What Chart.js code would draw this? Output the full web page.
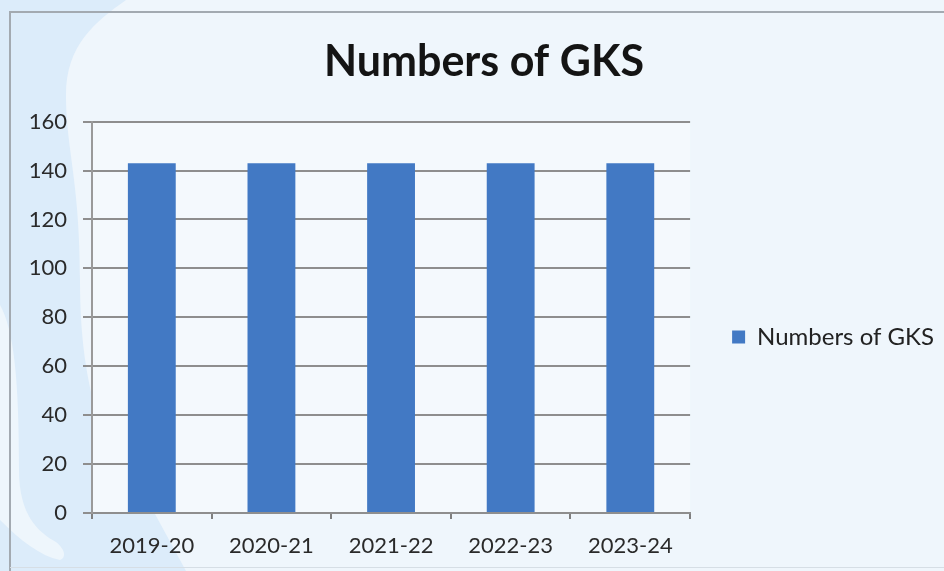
<!DOCTYPE html>
<html>
<head>
<meta charset="utf-8">
<script src="https://cdn.jsdelivr.net/npm/chart.js@4.4.1/dist/chart.umd.min.js"></script>
<style>
  html, body { margin: 0; padding: 0; background: #eff6fc; }
  #caixa { width: 944px; height: 571px; }
</style>
</head>
<body>
<div id="caixa"><canvas id="grafico_gks" width="944" height="571"></canvas></div>
<script>
const anos = ['2019-20', '2020-21', '2021-22', '2022-23', '2023-24'];
const numeros_gks = [143, 143, 143, 143, 143];
const ticks_y = [0, 20, 40, 60, 80, 100, 120, 140, 160];

const cor_barra = '#4279c4';
const cor_grade = '#8e8e8e';
const fonte = 'Lato';

// fundo do slide: faixa azul curva na esquerda + moldura
const fundo = {
    id: 'fundo',
    beforeDraw(chart) {
        const c = chart.ctx;
        const a = chart.chartArea;
        c.save();
        c.fillStyle = '#eff6fc';
        c.fillRect(0, 0, chart.width, chart.height);

        c.fillStyle = '#dcecfa';
        c.beginPath();
        c.moveTo(0, 0);
        c.lineTo(126, 0);
        c.bezierCurveTo(95, 22, 66, 45, 66, 95);
        c.bezierCurveTo(66, 150, 80, 180, 80, 280);
        c.bezierCurveTo(80, 340, 87, 375, 93, 400);
        c.lineTo(186, 571);
        c.lineTo(0, 571);
        c.closePath();
        c.fill();

        c.fillStyle = '#eef6fc';
        c.beginPath();
        c.moveTo(0, 305);
        c.bezierCurveTo(14, 330, 19, 380, 19, 470);
        c.bezierCurveTo(19, 515, 38, 532, 56, 542);
        c.bezierCurveTo(66, 550, 66, 558, 60, 560);
        c.bezierCurveTo(40, 556, 20, 540, 0, 520);
        c.closePath();
        c.fill();

        // area do grafico
        c.fillStyle = '#f4f9fd';
        c.fillRect(a.left, a.top, a.right - a.left, a.bottom - a.top);

        // moldura
        c.strokeStyle = '#a3aab1';
        c.lineWidth = 2;
        c.beginPath();
        c.moveTo(10, 571);
        c.lineTo(10, 12);
        c.lineTo(944, 12);
        c.stroke();
        c.strokeStyle = '#d6dee5';
        c.lineWidth = 1;
        c.beginPath();
        c.moveTo(10, 567.5);
        c.lineTo(944, 567.5);
        c.stroke();
        c.restore();
    }
};

// legenda centralizada na altura do eixo
const posiciona_legenda = {
    id: 'posiciona_legenda',
    afterLayout(chart) {
        const l = chart.legend;
        const dy = 337 - (l.top + l.bottom) / 2;
        l.top += dy;
        l.bottom += dy;
    }
};

const ctx = document.getElementById('grafico_gks').getContext('2d');

new Chart(ctx, {
    type: 'bar',
    data: {
        labels: anos,
        datasets: [
            {
                label: 'Numbers of GKS',
                data: numeros_gks,
                backgroundColor: cor_barra,
                borderColor: cor_barra,
                borderWidth: 0,
                categoryPercentage: 1.0,
                barPercentage: 0.4
            }
        ]
    },
    options: {
        responsive: false,
        animation: false,
        devicePixelRatio: 1,
        layout: {
            padding: { left: 24, right: 0, top: 0, bottom: 0 }
        },
        plugins: {
            title: {
                display: true,
                text: 'Numbers of GKS',
                color: '#141414',
                font: { family: fonte, size: 43, weight: 'bold', lineHeight: 1.2 },
                padding: { top: 36, bottom: 34 }
            },
            legend: {
                display: true,
                position: 'right',
                maxWidth: 300,
                labels: {
                    boxWidth: 13,
                    boxHeight: 13,
                    padding: 42,
                    color: '#222',
                    font: { family: fonte, size: 24 }
                }
            },
            tooltip: { enabled: false }
        },
        scales: {
            x: {
                grid: {
                    display: true,
                    drawOnChartArea: false,
                    drawTicks: true,
                    tickLength: 6,
                    color: '#7f7f7f',
                    lineWidth: 2,
                    offset: true
                },
                border: { display: true, color: cor_grade, width: 2 },
                ticks: {
                    color: '#2a2a2a',
                    padding: 14,
                    maxRotation: 0,
                    font: { family: fonte, size: 22 }
                },
                afterFit(s) { s.height = 58; }
            },
            y: {
                min: 0,
                max: 160,
                grid: {
                    color: cor_grade,
                    lineWidth: 2,
                    drawTicks: true,
                    tickLength: 9
                },
                border: { display: true, color: '#9a9a9a', width: 2 },
                ticks: {
                    color: '#2a2a2a',
                    padding: 16,
                    font: { family: fonte, size: 22 }
                },
                afterBuildTicks(s) { s.ticks = ticks_y.map(v => ({ value: v })); },
                afterFit(s) { s.width = 68; }
            }
        }
    },
    plugins: [fundo, posiciona_legenda]
});
</script>
</body>
</html>
